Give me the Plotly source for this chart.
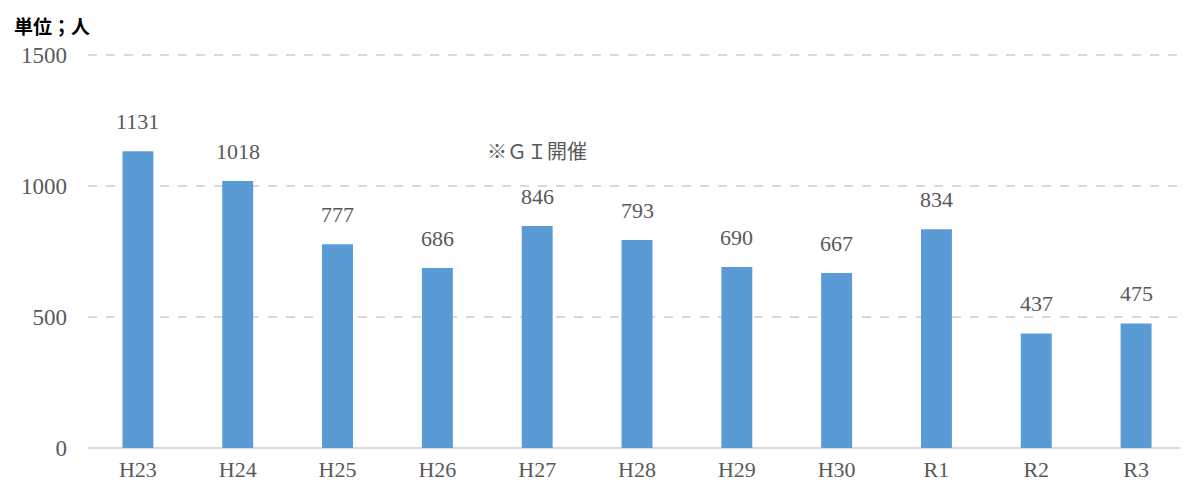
import plotly.graph_objects as go

categories = ["H23", "H24", "H25", "H26", "H27", "H28", "H29", "H30", "R1", "R2", "R3"]
values = [1131, 1018, 777, 686, 846, 793, 690, 667, 834, 437, 475]
y_ticks = [0, 500, 1000, 1500]

SERIF = "Liberation Serif, DejaVu Serif, serif"
SANS = "Noto Sans CJK JP, Noto Sans, sans-serif"
GRAY = "#595959"

fig = go.Figure()
fig.add_trace(go.Bar(
    x=categories, y=values,
    marker=dict(color="#5B9BD5", line=dict(width=0)),
    width=0.31,
    hoverinfo="x+y",
))

for c, v in zip(categories, values):
    fig.add_annotation(x=c, y=v, text=str(v), showarrow=False,
                       yanchor="bottom", yshift=15,
                       font=dict(family=SERIF, size=22, color=GRAY))

fig.add_annotation(xref="paper", yref="paper", x=-0.0692, y=1.11,
                   xanchor="left", yanchor="top",
                   text="<b>単位；人</b>", showarrow=False,
                   font=dict(family=SANS, size=19, color="#000000"))
fig.add_annotation(xref="x", yref="y", x=3.997, y=1134,
                   xanchor="center", yanchor="middle",
                   text="※ＧＩ開催", showarrow=False,
                   font=dict(family=SANS, size=20, color=GRAY))

fig.update_layout(
    width=1180, height=480,
    margin=dict(l=80, r=2, t=45, b=40, autoexpand=False),
    paper_bgcolor="white", plot_bgcolor="white",
    showlegend=False,
    xaxis=dict(
        tickfont=dict(family=SERIF, size=22, color=GRAY),
        showgrid=False, showline=False, ticks="", ticklabelstandoff=6,
    ),
    yaxis=dict(
        range=[0, 1506],
        tickvals=y_ticks,
        tickfont=dict(family=SERIF, size=23, color=GRAY),
        showgrid=True, gridcolor="#d9d9d9", griddash="dash", gridwidth=2,
        zeroline=True, zerolinecolor="#d9d9d9", zerolinewidth=2,
        showline=False, ticks="", ticklabelstandoff=20,
    ),
)

fig.write_html("out.html")
